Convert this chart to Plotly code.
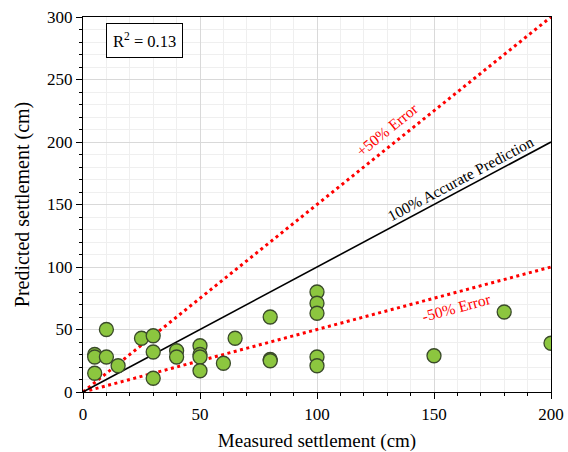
import plotly.graph_objects as go

measured = [5, 5, 5, 10, 10, 15, 25, 30, 30, 30, 40, 40, 50, 50, 50, 50, 60, 65,
            80, 80, 80, 100, 100, 100, 100, 100, 150, 180, 200]
predicted = [30, 28, 15, 50, 28, 21, 43, 45, 32, 11, 33, 28, 37, 30, 28, 17, 23, 43,
             60, 26, 25, 80, 71, 63, 28, 21, 29, 64, 39]

line_x = [0, 200]
accurate_y = [0, 200]
plus50_y = [0, 300]
minus50_y = [0, 100]

font = "Liberation Serif, Times New Roman, serif"

fig = go.Figure()
fig.add_trace(go.Scatter(x=line_x, y=plus50_y, mode="lines",
                         line=dict(color="#ff0000", width=3, dash="3px,3.5px"), showlegend=False))
fig.add_trace(go.Scatter(x=line_x, y=minus50_y, mode="lines",
                         line=dict(color="#ff0000", width=3, dash="3px,3.5px"), showlegend=False))
fig.add_trace(go.Scatter(x=line_x, y=accurate_y, mode="lines",
                         line=dict(color="black", width=1.6), showlegend=False))
fig.add_trace(go.Scatter(x=measured, y=predicted, mode="markers",
                         marker=dict(size=14, color="#8cc63f",
                                     line=dict(color="#3a4a2a", width=1.3)),
                         showlegend=False))

fig.add_annotation(x=161.5, y=171, text="100% Accurate Prediction", showarrow=False,
                   textangle=-28, font=dict(family=font, size=15.5, color="black"))
fig.add_annotation(x=130, y=210, text="+50% Error", showarrow=False,
                   textangle=-39, font=dict(family=font, size=15.5, color="#ff0000"))
fig.add_annotation(x=159.5, y=68, text="-50% Error", showarrow=False,
                   textangle=-15, font=dict(family=font, size=15.5, color="#ff0000"))
fig.add_annotation(x=0.049, y=0.936, xref="paper", yref="paper", xanchor="left",
                   yanchor="middle",
                   text="R<sup>2</sup> = 0.13", showarrow=False,
                   bordercolor="black", borderwidth=1, borderpad=6,
                   bgcolor="white", font=dict(family=font, size=16.5, color="black"))

axis_common = dict(
    showline=True, linecolor="black", linewidth=1.2, mirror=True,
    ticks="outside", ticklen=6, tickcolor="black",
    showgrid=True, gridcolor="#d9d9d9", gridwidth=1,
    zeroline=False, automargin=False,
    tickfont=dict(family=font, size=17, color="black"),
    minor=dict(dtick=10, ticks="outside", ticklen=3, tickcolor="black",
               showgrid=True, gridcolor="#efefef", gridwidth=1),
)

fig.update_layout(
    width=568, height=452,
    margin=dict(l=83, r=17, t=17, b=60),
    paper_bgcolor="white", plot_bgcolor="white",
    xaxis=dict(range=[0, 200], dtick=50,
               title=dict(text="Measured settlement (cm)",
                          font=dict(family=font, size=19, color="black"), standoff=14),
               **axis_common),
    yaxis=dict(range=[0, 300], dtick=50,
               title=dict(text="Predicted settlement (cm)",
                          font=dict(family=font, size=20, color="black"), standoff=12),
               **axis_common),
)

fig.write_html("out.html", config={"displayModeBar": False},
               post_script="document.body.style.margin='0';document.body.style.overflow='hidden';")
